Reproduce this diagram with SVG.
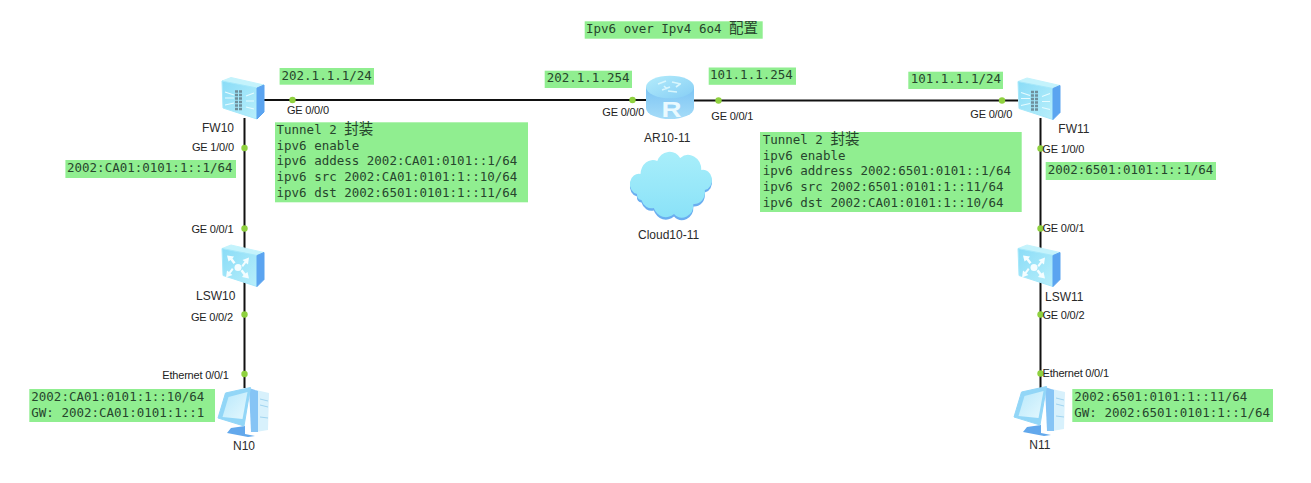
<svg xmlns="http://www.w3.org/2000/svg" xmlns:xlink="http://www.w3.org/1999/xlink" width="1311" height="483" viewBox="0 0 1311 483">
<style>
.note{fill:#90ee90}
.m{font-family:"DejaVu Sans Mono","Liberation Mono",monospace;font-size:12.5px;fill:#27452d}
.c{font-family:"Noto Sans CJK SC","Noto Sans CJK JP",sans-serif;font-size:14.5px}
.l{font-family:"Liberation Sans",Arial,sans-serif;font-size:11px;letter-spacing:-.2px;fill:#222}
.n{font-family:"Liberation Sans",Arial,sans-serif;font-size:12px;fill:#2a2a2a}
.link{stroke:#111;stroke-width:2;fill:none}
.dot{fill:#8fd13f}
.arrow{fill:#f4fdff}
</style>
<defs>
<linearGradient id="front" x1="0" y1="0" x2="1" y2="1"><stop offset="0" stop-color="#8adcf7"/><stop offset="1" stop-color="#b8effb"/></linearGradient>
<linearGradient id="drum" x1="0" y1="0" x2="0" y2="1"><stop offset="0" stop-color="#7cc4f4"/><stop offset="1" stop-color="#a5dcf8"/></linearGradient>
<linearGradient id="drumtop" x1="0" y1="0" x2="1" y2="1"><stop offset="0" stop-color="#b4ecfb"/><stop offset="1" stop-color="#86cef5"/></linearGradient>
<linearGradient id="cloud" x1="0" y1="0" x2="0" y2="1"><stop offset="0" stop-color="#a8eefa"/><stop offset="1" stop-color="#8ae2f8"/></linearGradient>
<linearGradient id="screen" x1="0" y1="0" x2="1" y2="1"><stop offset="0" stop-color="#b8e8fb"/><stop offset="1" stop-color="#e4f8fe"/></linearGradient>
<path id="cloudshape" d="M631 194A10 10 0 0 1 635 174A14 14 0 0 1 654 161A15 15 0 0 1 680 158A15 15 0 0 1 704 170A10 10 0 0 1 708 190A12 12 0 0 1 695 204A13 13 0 0 1 673 214A15 15 0 0 1 650 208A12 12 0 0 1 636 200A5 5 0 0 1 631 194Z"/>
<g id="box">
<polygon points="0,4 9,.5 42,8 35,11" fill="#c4f3fc" stroke="#c4f3fc" stroke-linejoin="round"/>
<polygon points="0,4 35,11 35,42 1,31" fill="url(#front)" stroke="#a6e8fa" stroke-linejoin="round"/>
<polygon points="35,11 42,8 42,35 35,42" fill="#5ba4f0" stroke="#5ba4f0" stroke-linejoin="round"/>
</g>
<g id="fw-art">
<use href="#box"/>
<path d="M3 15l9 3M3 21h9M3 28l9-2M24 19l8-3M24 24h8M24 30l8 2" stroke="#e6fbff" stroke-width="1.2" fill="none"/>
<path d="M13 14.500h8M13 18h8M13 21.500h8M13 25h8M13 28.500h8M13 32h8" stroke="#6f8f9c" stroke-width="2.300" stroke-dasharray="3 1" fill="none"/>
</g>
<g id="sw-art">
<use href="#box"/>
<circle cx="16" cy="23" r="3.500" fill="#f4fdff"/>
<path class="arrow" d="M5 11l7 1-1.500 2 3 4-2 1.500-3-4-2 1.500zM27 13l-1 7-2-1.500-3 4-1.500-1.500 3-4-2-1.500zM4 33l1-7 2 1.500 3-4 1.500 1.500-3 4 2 1.500zM27 34l-7-1.500 1.500-2-3-4 2-1.500 3 4 2-1.500z"/>
</g>
<g id="pc-art">
<polygon points="38,4 51,7 50,44 38,46" fill="#d8f1fc"/>
<polygon points="31,2 40,5 40,46 33,46" fill="#86c4f5"/>
<path d="M42 13l8 2M42 19l8 2M42 31l8 1" stroke="#a0d4f0" fill="none"/>
<polygon points="13,42 27,40 27,48 37,50 30,51 9,47" fill="#62a8ec"/>
<polygon points="7.500,7 32.500,1.500 26,40 0,32" fill="#92d6f7" stroke="#92d6f7" stroke-linejoin="round"/>
<polygon points="10.500,11 29.500,6 24.500,33 4.500,31" fill="url(#screen)"/>
</g>
</defs>
<rect width="1311" height="483" fill="#fff"/>

<g id="connectors">
<path class="link" d="M262 100H646"/>
<path class="link" d="M694 100.500H1018"/>
<path class="link" d="M244.500 118V388"/>
<path class="link" d="M1040.500 118V388"/>
<circle class="dot" cx="292.500" cy="100" r="3.200"/>
<circle class="dot" cx="632.500" cy="100" r="3.200"/>
<circle class="dot" cx="718.500" cy="100.500" r="3.200"/>
<circle class="dot" cx="1002" cy="100.500" r="3.200"/>
<circle class="dot" cx="244.500" cy="148" r="3.200"/>
<circle class="dot" cx="244.500" cy="228.500" r="3.200"/>
<circle class="dot" cx="244.500" cy="314.500" r="3.200"/>
<circle class="dot" cx="244.500" cy="374" r="3.200"/>
<circle class="dot" cx="1040.500" cy="148.500" r="3.200"/>
<circle class="dot" cx="1040.500" cy="228.500" r="3.200"/>
<circle class="dot" cx="1040.500" cy="314.500" r="3.200"/>
<circle class="dot" cx="1040.500" cy="373.500" r="3.200"/>
<text class="l" x="287" y="114">GE 0/0/0</text>
<text class="l" x="192" y="151">GE 1/0/0</text>
<text class="l" x="191.500" y="232.700">GE 0/0/1</text>
<text class="l" x="191" y="321">GE 0/0/2</text>
<text class="l" x="162.300" y="379">Ethernet 0/0/1</text>
<text class="l" x="602.300" y="116">GE 0/0/0</text>
<text class="l" x="711.300" y="120">GE 0/0/1</text>
<text class="l" x="970.300" y="118">GE 0/0/0</text>
<text class="l" x="1042.300" y="153">GE 1/0/0</text>
<text class="l" x="1042.500" y="232">GE 0/0/1</text>
<text class="l" x="1042.500" y="319">GE 0/0/2</text>
<text class="l" x="1042.500" y="377.300">Ethernet 0/0/1</text>
</g>

<g id="FW10"><use href="#fw-art" x="222" y="77"/><text class="n" x="202" y="132">FW10</text></g>
<g id="FW11"><use href="#fw-art" x="1018" y="77.500"/><text class="n" x="1058.300" y="133">FW11</text></g>
<g id="LSW10"><use href="#sw-art" x="222" y="244.500"/><text class="n" x="196" y="300">LSW10</text></g>
<g id="LSW11"><use href="#sw-art" x="1018" y="244.500"/><text class="n" x="1045" y="301">LSW11</text></g>
<g id="N10"><use href="#pc-art" x="218" y="386"/><text class="n" x="233" y="450">N10</text></g>
<g id="N11"><use href="#pc-art" x="1014" y="385"/><text class="n" x="1029.300" y="449">N11</text></g>
<g id="AR10-11">
<path d="M646 87V108A24 11 0 0 0 694 108V87Z" fill="url(#drum)"/>
<ellipse cx="670" cy="87" rx="24" ry="11.300" fill="url(#drumtop)"/>
<path d="M658 84l8-3M662 90l8-3M672 82l9 2M668 91l9 1M664 86l3 3M676 87l4-3" stroke="#d8f6fd" stroke-width="1.600" fill="none"/>
<text x="661.500" y="117" font-family="Liberation Sans,Arial,sans-serif" font-size="22" font-weight="bold" fill="#eafaff" textLength="20" lengthAdjust="spacingAndGlyphs">R</text>
<text class="n" x="644" y="141.700">AR10-11</text>
</g>
<g id="Cloud10-11">
<use href="#cloudshape" fill="#6aaef0" transform="translate(670.500 2.500) scale(.88 1) translate(-669 0)"/>
<use href="#cloudshape" fill="url(#cloud)" transform="translate(670.500 0) scale(.88 1) translate(-669 0)"/>
<text class="n" x="638" y="238.700">Cloud10-11</text>
</g>

<g id="note-title"><rect class="note" x="584.700" y="21.300" width="178" height="17.400"/><text class="m" x="586" y="32.700">Ipv6 over Ipv4 6o4 <tspan class="c">配置</tspan></text></g>
<g id="note-fw10-wan"><rect class="note" x="279.600" y="68" width="94.400" height="16.700"/><text class="m" x="281.500" y="79.500">202.1.1.1/24</text></g>
<g id="note-ar-left"><rect class="note" x="544.700" y="70.700" width="87.300" height="17.300"/><text class="m" x="546.700" y="82">202.1.1.254</text></g>
<g id="note-ar-right"><rect class="note" x="708.700" y="67.500" width="87.300" height="17.300"/><text class="m" x="710" y="78.700">101.1.1.254</text></g>
<g id="note-fw11-wan"><rect class="note" x="908.300" y="71.700" width="94.700" height="17.300"/><text class="m" x="910.700" y="82.700">101.1.1.1/24</text></g>
<g id="note-fw10-lan"><rect class="note" x="65.400" y="160" width="170.600" height="18"/><text class="m" x="67" y="172.300">2002:CA01:0101:1::1/64</text></g>
<g id="note-fw11-lan"><rect class="note" x="1045.700" y="162" width="170.300" height="18"/><text class="m" x="1047.700" y="174">2002:6501:0101:1::1/64</text></g>
<g id="note-tunnel-left"><rect class="note" x="275" y="122.300" width="253" height="80"/>
<text class="m" x="276.500" y="134">Tunnel 2 <tspan class="c">封装</tspan></text>
<text class="m" x="276.500" y="150">ipv6 enable</text>
<text class="m" x="276.500" y="165">ipv6 addess 2002:CA01:0101::1/64</text>
<text class="m" x="276.500" y="180.700">ipv6 src 2002:CA01:0101:1::10/64</text>
<text class="m" x="276.500" y="196.700">ipv6 dst 2002:6501:0101:1::11/64</text></g>
<g id="note-tunnel-right"><rect class="note" x="760" y="132" width="261.700" height="80"/>
<text class="m" x="762.700" y="144">Tunnel 2 <tspan class="c">封装</tspan></text>
<text class="m" x="762.700" y="160">ipv6 enable</text>
<text class="m" x="762.700" y="175">ipv6 address 2002:6501:0101::1/64</text>
<text class="m" x="762.700" y="190.700">ipv6 src 2002:6501:0101:1::11/64</text>
<text class="m" x="762.700" y="206.700">ipv6 dst 2002:CA01:0101:1::10/64</text></g>
<g id="note-n10"><rect class="note" x="29.300" y="389" width="185.700" height="33"/>
<text class="m" x="31.300" y="401.300">2002:CA01:0101:1::10/64</text>
<text class="m" x="31.300" y="417.300">GW: 2002:CA01:0101:1::1</text></g>
<g id="note-n11"><rect class="note" x="1072.300" y="389" width="200.700" height="33"/>
<text class="m" x="1074.300" y="401.300">2002:6501:0101:1::11/64</text>
<text class="m" x="1074.300" y="417.300">GW: 2002:6501:0101:1::1/64</text></g>
</svg>
